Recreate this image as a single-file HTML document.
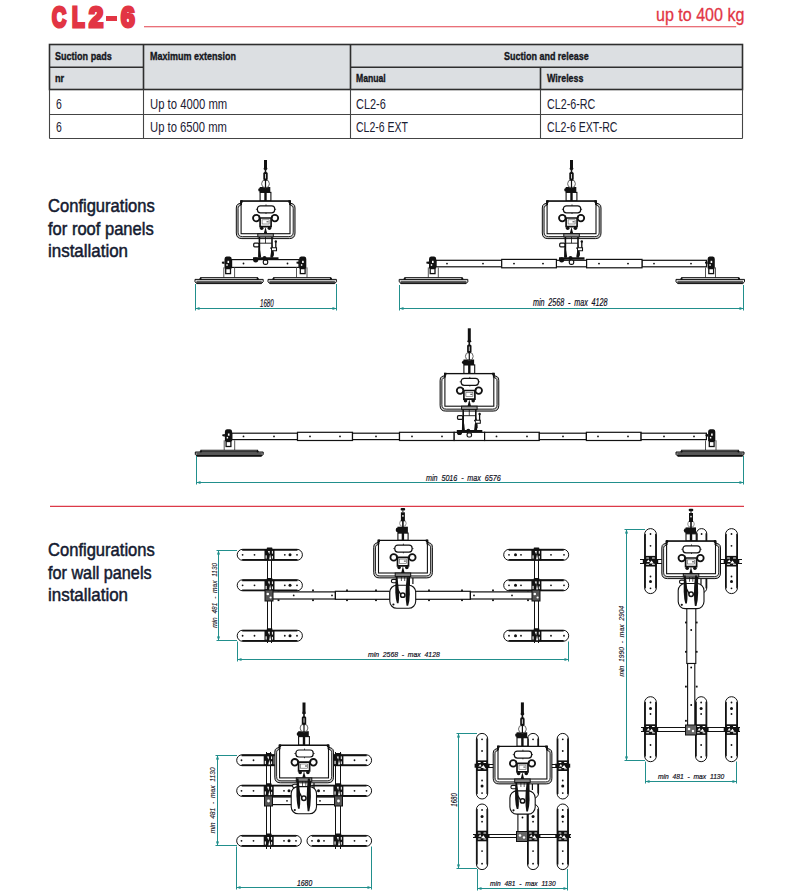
<!DOCTYPE html>
<html><head><meta charset="utf-8">
<style>
*{margin:0;padding:0;box-sizing:border-box}
html,body{width:789px;height:892px;background:#fff;overflow:hidden}
body{position:relative;font-family:"Liberation Sans",sans-serif}
.t{position:absolute;white-space:nowrap;transform-origin:0 0;line-height:1}
svg{position:absolute;left:0;top:0}
</style></head><body>
<svg width="789" height="892" viewBox="0 0 789 892">

 <g>
  <rect x="49.5" y="44.5" width="693" height="45" fill="#dcdfe2"/>
  <g stroke="#2e2e2e" stroke-width="1.6" fill="none">
   <rect x="49.5" y="44.5" width="693" height="45"/>
   <line x1="49.5" y1="67.2" x2="143.5" y2="67.2"/>
   <line x1="350.5" y1="67.2" x2="742.5" y2="67.2"/>
   <line x1="143.5" y1="44.5" x2="143.5" y2="89.5"/>
   <line x1="350.5" y1="44.5" x2="350.5" y2="89.5"/>
   <line x1="540.5" y1="67.2" x2="540.5" y2="89.5"/>
  </g>
  <g stroke="#444" stroke-width="1.1" fill="none">
   <line x1="49.5" y1="89.5" x2="49.5" y2="138.5"/>
   <line x1="742.5" y1="89.5" x2="742.5" y2="138.5"/>
   <line x1="49.5" y1="114.5" x2="742.5" y2="114.5"/>
   <line x1="49.5" y1="138.5" x2="742.5" y2="138.5"/>
   <line x1="143.5" y1="89.5" x2="143.5" y2="138.5"/>
   <line x1="350.5" y1="89.5" x2="350.5" y2="138.5"/>
   <line x1="540.5" y1="89.5" x2="540.5" y2="138.5"/>
  </g>
 </g>
 <line x1="144" y1="26.8" x2="736.2" y2="26.8" stroke="#e2404c" stroke-width="1.1"/>
 <line x1="50" y1="506.3" x2="744" y2="506.3" stroke="#dc3a48" stroke-width="1.2"/>

<defs>

<symbol id="hd" overflow="visible">
 <!-- handle frame (double line) -->
 <path d="M-24.4 2 L-27.6 3.2 Q-29.2 4 -29.2 7 V32 Q-29.2 37.6 -23.6 37.6 H23.9 Q29.5 37.6 29.5 32 V7 Q29.5 4 27.9 3.2 L24.7 2 Z" fill="#c4c4c4" stroke="#111" stroke-width="1"/>
 <path d="M-24.4 4 L-26.5 5 Q-27.4 5.6 -27.4 7.6 V31.2 Q-27.4 35.6 -23 35.6 H23.3 Q27.7 35.6 27.7 31.2 V7.6 Q27.7 5.6 26.8 5 L24.7 4 Z" fill="#fff" stroke="#111" stroke-width="0.9"/>
 <!-- box -->
 <rect x="-24.4" y="0" width="48.9" height="32.7" fill="#fff" stroke="#111" stroke-width="1.1"/>
 <line x1="-24.9" y1="0.2" x2="25" y2="0.2" stroke="#111" stroke-width="1.2"/>
 <line x1="-24.4" y1="0" x2="-24.4" y2="4" stroke="#111" stroke-width="1.8"/><line x1="24.5" y1="0" x2="24.5" y2="4" stroke="#111" stroke-width="1.8"/>
 <rect x="-25.3" y="-0.8" width="2.4" height="2.6" fill="#111"/>
 <rect x="22.9" y="-0.8" width="2.4" height="2.6" fill="#111"/>
 <!-- display -->
 <rect x="-8.1" y="4.8" width="17.3" height="7" rx="3" fill="#fff" stroke="#111" stroke-width="1.2"/>
 <line x1="0.5" y1="3.4" x2="0.5" y2="4.8" stroke="#111" stroke-width="0.8"/>
 <line x1="0.5" y1="11.8" x2="0.5" y2="13" stroke="#111" stroke-width="0.8"/>
 <line x1="-9.6" y1="8.3" x2="-8.1" y2="8.3" stroke="#111" stroke-width="0.8"/>
 <line x1="9.2" y1="8.3" x2="10.6" y2="8.3" stroke="#111" stroke-width="0.8"/>
 <!-- gauges -->
 <circle cx="-9.2" cy="17.1" r="3.3" fill="#fff" stroke="#111" stroke-width="1.8"/>
 <circle cx="9.4" cy="17.1" r="3.3" fill="#fff" stroke="#111" stroke-width="1.8"/>
 <!-- body -->
 <path d="M-5.4 17 h11 v8.6 h-11 z" fill="#fff" stroke="#111" stroke-width="1.7"/>
 <rect x="-3.4" y="18.8" width="7" height="4.2" fill="#fff" stroke="#555" stroke-width="0.6"/>
 <line x1="1" y1="20.8" x2="3" y2="20.8" stroke="#111" stroke-width="0.8"/>
 <path d="M-5.8 14.6 q-1 1.4 0 2.6 M6.2 14.6 q1 1.4 0 2.6" stroke="#111" stroke-width="1.2" fill="none"/>
 <circle cx="-3.8" cy="27.2" r="1.8" fill="#111"/>
 <circle cx="3.9" cy="27.2" r="1.8" fill="#111"/>
 <path d="M-1.8 33 L0 26 L1.8 33 z" fill="#111"/>
</symbol>
<symbol id="hook" overflow="visible">
 <rect x="-5.4" y="-8.6" width="10.8" height="8.6" fill="#fff" stroke="#111" stroke-width="1.1"/>
 <line x1="0" y1="-9" x2="0" y2="0" stroke="#111" stroke-width="2.4"/>
 <path d="M-5.8 -14 h10.6 v5.6 h-10.6 z" fill="#111"/>
 <circle cx="-5.4" cy="-11.2" r="1.9" fill="#111"/>
 <circle cx="0" cy="-17.2" r="3.9" fill="none" stroke="#666" stroke-width="1"/>
 <line x1="0" y1="-21" x2="0" y2="-13" stroke="#111" stroke-width="1.2"/>
 <rect x="-2.2" y="-29" width="4.4" height="8.6" rx="1.6" fill="#111"/>
 <line x1="0" y1="-27" x2="0" y2="-22.5" stroke="#fff" stroke-width="0.8"/>
 <ellipse cx="0" cy="-32.3" rx="1.9" ry="1.4" fill="#111"/>
</symbol>
<symbol id="hookw" overflow="visible">
 <rect x="-5" y="-7.2" width="10.2" height="7.2" fill="#fff" stroke="#111" stroke-width="1.1"/>
 <line x1="0" y1="-8" x2="0" y2="0" stroke="#111" stroke-width="2.4"/>
 <path d="M-5.4 -13.6 h10.4 v6.4 h-10.4 z" rx="2" fill="#111"/>
 <circle cx="-4.9" cy="-10.4" r="2.3" fill="#111"/>
 <circle cx="0" cy="-17" r="3.3" fill="none" stroke="#888" stroke-width="0.9"/><line x1="0" y1="-20" x2="0" y2="-13" stroke="#111" stroke-width="1.6"/>
 <rect x="-2" y="-28" width="4" height="9" fill="#111"/>
 <rect x="-0.7" y="-25.2" width="1.4" height="1.6" fill="#fff"/>
 <rect x="-2.2" y="-32.3" width="4.4" height="2.6" rx="0.8" fill="#111"/>
 <line x1="0" y1="-30" x2="0" y2="-28" stroke="#111" stroke-width="1"/>
</symbol>

</defs>
<rect x="231.6" y="259.6" width="67.4" height="7.7999999999999545" fill="#fff" stroke="#111" stroke-width="1.2"/><circle cx="243.5" cy="263.5" r="0.9" fill="#111"/><circle cx="287.5" cy="263.5" r="0.9" fill="#111"/><path d="M223.8 267.4 V277.6 M234.6 267.4 V277.6" stroke="#555" stroke-width="1"/><path d="M224.50000000000003 259.1 q0 -2.4 2 -2.6 h3.2 q2 0.2 2 2.6 v9.299999999999955 h-7.2 z" fill="#111"/><path d="M224.50000000000003 261.40000000000003 l-2.6 0.4 l0 1.6 l2.6 0.6 z" fill="#111"/><rect x="227.50000000000003" y="260.8" width="1.6" height="2.2" fill="#fff"/><rect x="226.3" y="264.20000000000005" width="1.4" height="1.6" fill="#fff"/><rect x="225.70000000000002" y="268.59999999999997" width="4.8" height="5" fill="#fff" stroke="#111" stroke-width="1.3"/><path d="M296.5 267.4 V277.6 M307 267.4 V277.6" stroke="#555" stroke-width="1"/><path d="M299.09999999999997 259.1 q0 -2.4 2 -2.6 h3.2 q2 0.2 2 2.6 v9.299999999999955 h-7.2 z" fill="#111"/><path d="M299.09999999999997 261.40000000000003 l-2.6 0.4 l0 1.6 l2.6 0.6 z" fill="#111"/><rect x="302.09999999999997" y="260.8" width="1.6" height="2.2" fill="#fff"/><rect x="300.9" y="264.20000000000005" width="1.4" height="1.6" fill="#fff"/><rect x="300.3" y="268.59999999999997" width="4.8" height="5" fill="#fff" stroke="#111" stroke-width="1.3"/><rect x="200.6" y="277.6" width="56.999999999999986" height="1.8" fill="#e4e4e4" stroke="#111" stroke-width="0.9"/><path d="M195 279.40000000000003 H263.2 V281.8 L261.4 283.6 H196.8 L195 281.8 Z" fill="#e4e4e4" stroke="#111" stroke-width="1"/><line x1="196.5" y1="281.3" x2="261.7" y2="281.3" stroke="#111" stroke-width="0.8"/><line x1="196.2" y1="282.90000000000003" x2="262.0" y2="282.90000000000003" stroke="#111" stroke-width="1.4"/><circle cx="200.5" cy="278.90000000000003" r="1.1" fill="#111"/><circle cx="257.7" cy="278.90000000000003" r="1.1" fill="#111"/><rect x="273.6" y="277.6" width="57.199999999999974" height="1.8" fill="#e4e4e4" stroke="#111" stroke-width="0.9"/><path d="M268 279.40000000000003 H336.4 V281.8 L334.59999999999997 283.6 H269.8 L268 281.8 Z" fill="#e4e4e4" stroke="#111" stroke-width="1"/><line x1="269.5" y1="281.3" x2="334.9" y2="281.3" stroke="#111" stroke-width="0.8"/><line x1="269.2" y1="282.90000000000003" x2="335.2" y2="282.90000000000003" stroke="#111" stroke-width="1.4"/><circle cx="273.5" cy="278.90000000000003" r="1.1" fill="#111"/><circle cx="330.9" cy="278.90000000000003" r="1.1" fill="#111"/><line x1="265.5" y1="160" x2="265.5" y2="168.0" stroke="#111" stroke-width="3"/><line x1="265.5" y1="168.0" x2="265.5" y2="181.0" stroke="#111" stroke-width="1.6"/><use href="#hook" x="265.5" y="201.0"/><use href="#hd" x="265.5" y="201.0"/><rect x="257.8" y="233.7" width="15.5" height="3.2" fill="#999" stroke="#111" stroke-width="1"/><path d="M259.4 236.89999999999998 V257.6 M272.0 236.89999999999998 V257.6" fill="none" stroke="#111" stroke-width="1.6"/><path d="M265.5 236.89999999999998 V243.2" stroke="#111" stroke-width="0.8"/><path d="M259.4 243.2 H272.0" stroke="#111" stroke-width="0.9"/><path d="M258.5 244.7 q2.2 6 2.6 12.900000000000034 l-3 0 z" fill="#111"/><path d="M272.9 244.7 q-2.2 6 -2.6 12.900000000000034 l3 0 z" fill="#111"/><path d="M270.5 247.7 q3 2 2.6 8" stroke="#111" stroke-width="1.6" fill="none"/><rect x="253.7" y="243.2" width="5.2" height="3.6" rx="1" fill="#fff" stroke="#111" stroke-width="1.2"/><path d="M272.0 247.7 h4.5 v3 h-4.5" fill="#fff" stroke="#111" stroke-width="1.1"/><line x1="275.8" y1="241.2" x2="275.8" y2="247.7" stroke="#111" stroke-width="1.3"/><circle cx="275.8" cy="241.5" r="1.2" fill="#111"/><rect x="253.0" y="257.3" width="25.5" height="2.4" fill="#111"/><circle cx="255.7" cy="259.8" r="2.6" fill="#111"/><circle cx="264.5" cy="258.1" r="2" fill="#111"/><rect x="263.3" y="260.1" width="4.4" height="4.2" rx="1.5" fill="#fff" stroke="#111" stroke-width="1.2"/><line x1="195.5" y1="308.5" x2="336.5" y2="308.5" stroke="#218f8c" stroke-width="1"/><path d="M195.5 308.5 l4 -1.6 v3.2 z M336.5 308.5 l-4 -1.6 v3.2 z" fill="#218f8c"/><line x1="195.5" y1="284" x2="195.5" y2="310.5" stroke="#218f8c" stroke-width="1"/><line x1="336.5" y1="284" x2="336.5" y2="310.5" stroke="#218f8c" stroke-width="1"/>
<rect x="436" y="260.3" width="270.5" height="6.5" fill="#fff" stroke="#111" stroke-width="1.2"/><line x1="501.7" y1="260.3" x2="501.7" y2="266.8" stroke="#111" stroke-width="1.2"/><line x1="556.4" y1="260.3" x2="556.4" y2="266.8" stroke="#111" stroke-width="1.2"/><line x1="586.6" y1="260.3" x2="586.6" y2="266.8" stroke="#111" stroke-width="1.2"/><line x1="642" y1="260.3" x2="642" y2="266.8" stroke="#111" stroke-width="1.2"/><circle cx="447" cy="263.55" r="0.9" fill="#111"/><circle cx="483" cy="263.55" r="0.9" fill="#111"/><circle cx="514" cy="263.55" r="0.9" fill="#111"/><circle cx="543" cy="263.55" r="0.9" fill="#111"/><circle cx="599" cy="263.55" r="0.9" fill="#111"/><circle cx="628" cy="263.55" r="0.9" fill="#111"/><circle cx="654" cy="263.55" r="0.9" fill="#111"/><circle cx="691" cy="263.55" r="0.9" fill="#111"/><rect x="501.7" y="259.4" width="54.7" height="8.4" fill="#fff" stroke="#111" stroke-width="1.2"/><rect x="586.6" y="259.4" width="55.4" height="8.4" fill="#fff" stroke="#111" stroke-width="1.2"/><circle cx="514" cy="263.6" r="0.9"/><circle cx="543" cy="263.6" r="0.9"/><circle cx="599" cy="263.6" r="0.9"/><circle cx="628" cy="263.6" r="0.9"/><path d="M428.3 267.4 V277.6 M438.3 267.4 V277.6" stroke="#555" stroke-width="1"/><path d="M429.0 259.1 q0 -2.4 2 -2.6 h3.2 q2 0.2 2 2.6 v9.299999999999955 h-7.2 z" fill="#111"/><path d="M429.0 261.40000000000003 l-2.6 0.4 l0 1.6 l2.6 0.6 z" fill="#111"/><rect x="432.0" y="260.8" width="1.6" height="2.2" fill="#fff"/><rect x="430.8" y="264.20000000000005" width="1.4" height="1.6" fill="#fff"/><rect x="430.20000000000005" y="268.59999999999997" width="4.8" height="5" fill="#fff" stroke="#111" stroke-width="1.3"/><path d="M705.5 267.4 V277.6 M715.5 267.4 V277.6" stroke="#555" stroke-width="1"/><path d="M707.6 259.1 q0 -2.4 2 -2.6 h3.2 q2 0.2 2 2.6 v9.299999999999955 h-7.2 z" fill="#111"/><path d="M707.6 261.40000000000003 l-2.6 0.4 l0 1.6 l2.6 0.6 z" fill="#111"/><rect x="710.6" y="260.8" width="1.6" height="2.2" fill="#fff"/><rect x="709.4000000000001" y="264.20000000000005" width="1.4" height="1.6" fill="#fff"/><rect x="708.8000000000001" y="268.59999999999997" width="4.8" height="5" fill="#fff" stroke="#111" stroke-width="1.3"/><rect x="404.8" y="277.6" width="57.40000000000002" height="1.8" fill="#e4e4e4" stroke="#111" stroke-width="0.9"/><path d="M399.2 279.40000000000003 H467.8 V281.8 L466.0 283.6 H401.0 L399.2 281.8 Z" fill="#e4e4e4" stroke="#111" stroke-width="1"/><line x1="400.7" y1="281.3" x2="466.3" y2="281.3" stroke="#111" stroke-width="0.8"/><line x1="400.4" y1="282.90000000000003" x2="466.6" y2="282.90000000000003" stroke="#111" stroke-width="1.4"/><circle cx="404.7" cy="278.90000000000003" r="1.1" fill="#111"/><circle cx="462.3" cy="278.90000000000003" r="1.1" fill="#111"/><rect x="681.6" y="277.6" width="57.3" height="1.8" fill="#e4e4e4" stroke="#111" stroke-width="0.9"/><path d="M676 279.40000000000003 H744.5 V281.8 L742.7 283.6 H677.8 L676 281.8 Z" fill="#e4e4e4" stroke="#111" stroke-width="1"/><line x1="677.5" y1="281.3" x2="743.0" y2="281.3" stroke="#111" stroke-width="0.8"/><line x1="677.2" y1="282.90000000000003" x2="743.3" y2="282.90000000000003" stroke="#111" stroke-width="1.4"/><circle cx="681.5" cy="278.90000000000003" r="1.1" fill="#111"/><circle cx="739.0" cy="278.90000000000003" r="1.1" fill="#111"/><line x1="571.5" y1="160" x2="571.5" y2="168.0" stroke="#111" stroke-width="3"/><line x1="571.5" y1="168.0" x2="571.5" y2="181.0" stroke="#111" stroke-width="1.6"/><use href="#hook" x="571.5" y="201.0"/><use href="#hd" x="571.5" y="201.0"/><rect x="563.8" y="233.7" width="15.5" height="3.2" fill="#999" stroke="#111" stroke-width="1"/><path d="M565.4 236.89999999999998 V257.6 M578.0 236.89999999999998 V257.6" fill="none" stroke="#111" stroke-width="1.6"/><path d="M571.5 236.89999999999998 V243.2" stroke="#111" stroke-width="0.8"/><path d="M565.4 243.2 H578.0" stroke="#111" stroke-width="0.9"/><path d="M564.5 244.7 q2.2 6 2.6 12.900000000000034 l-3 0 z" fill="#111"/><path d="M578.9 244.7 q-2.2 6 -2.6 12.900000000000034 l3 0 z" fill="#111"/><path d="M576.5 247.7 q3 2 2.6 8" stroke="#111" stroke-width="1.6" fill="none"/><rect x="559.7" y="243.2" width="5.2" height="3.6" rx="1" fill="#fff" stroke="#111" stroke-width="1.2"/><path d="M578.0 247.7 h4.5 v3 h-4.5" fill="#fff" stroke="#111" stroke-width="1.1"/><line x1="581.8" y1="241.2" x2="581.8" y2="247.7" stroke="#111" stroke-width="1.3"/><circle cx="581.8" cy="241.5" r="1.2" fill="#111"/><rect x="559.0" y="257.3" width="25.5" height="2.4" fill="#111"/><circle cx="561.7" cy="259.8" r="2.6" fill="#111"/><circle cx="570.5" cy="258.1" r="2" fill="#111"/><rect x="569.3" y="260.1" width="4.4" height="4.2" rx="1.5" fill="#fff" stroke="#111" stroke-width="1.2"/><line x1="399.5" y1="308.5" x2="743.5" y2="308.5" stroke="#218f8c" stroke-width="1"/><path d="M399.5 308.5 l4 -1.6 v3.2 z M743.5 308.5 l-4 -1.6 v3.2 z" fill="#218f8c"/><line x1="399.5" y1="285" x2="399.5" y2="310.5" stroke="#218f8c" stroke-width="1"/><line x1="743.5" y1="285" x2="743.5" y2="310.5" stroke="#218f8c" stroke-width="1"/>
<rect x="231.8" y="433.2" width="65.69999999999999" height="6.400000000000034" fill="#fff" stroke="#111" stroke-width="1.2"/><rect x="297.5" y="432.3" width="55.0" height="8.199999999999989" fill="#fff" stroke="#111" stroke-width="1.2"/><rect x="352.5" y="433.2" width="47.0" height="6.400000000000034" fill="#fff" stroke="#111" stroke-width="1.2"/><rect x="399.5" y="432.3" width="54.69999999999999" height="8.199999999999989" fill="#fff" stroke="#111" stroke-width="1.2"/><rect x="454.2" y="432.3" width="30.400000000000034" height="8.199999999999989" fill="#fff" stroke="#111" stroke-width="1.2"/><rect x="484.6" y="432.3" width="54.69999999999993" height="8.199999999999989" fill="#fff" stroke="#111" stroke-width="1.2"/><rect x="539.3" y="433.2" width="47.10000000000002" height="6.400000000000034" fill="#fff" stroke="#111" stroke-width="1.2"/><rect x="586.4" y="432.3" width="54.700000000000045" height="8.199999999999989" fill="#fff" stroke="#111" stroke-width="1.2"/><rect x="641.1" y="433.2" width="65.29999999999995" height="6.400000000000034" fill="#fff" stroke="#111" stroke-width="1.2"/><circle cx="243.5" cy="436.4" r="0.9" fill="#111"/><circle cx="274" cy="436.4" r="0.9" fill="#111"/><circle cx="310" cy="436.4" r="0.9" fill="#111"/><circle cx="340" cy="436.4" r="0.9" fill="#111"/><circle cx="376" cy="436.4" r="0.9" fill="#111"/><circle cx="412" cy="436.4" r="0.9" fill="#111"/><circle cx="442" cy="436.4" r="0.9" fill="#111"/><circle cx="496.5" cy="436.4" r="0.9" fill="#111"/><circle cx="527" cy="436.4" r="0.9" fill="#111"/><circle cx="563" cy="436.4" r="0.9" fill="#111"/><circle cx="598" cy="436.4" r="0.9" fill="#111"/><circle cx="628" cy="436.4" r="0.9" fill="#111"/><circle cx="664" cy="436.4" r="0.9" fill="#111"/><circle cx="694" cy="436.4" r="0.9" fill="#111"/><path d="M224.2 440.3 V450.2 M234.7 440.3 V450.2" stroke="#555" stroke-width="1"/><path d="M224.9 431.8 q0 -2.4 2 -2.6 h3.2 q2 0.2 2 2.6 v9.5 h-7.2 z" fill="#111"/><path d="M224.9 434.1 l-2.6 0.4 l0 1.6 l2.6 0.6 z" fill="#111"/><rect x="227.9" y="433.5" width="1.6" height="2.2" fill="#fff"/><rect x="226.7" y="436.90000000000003" width="1.4" height="1.6" fill="#fff"/><rect x="226.1" y="441.5" width="4.8" height="5" fill="#fff" stroke="#111" stroke-width="1.3"/><path d="M705.5 440.3 V450.2 M716 440.3 V450.2" stroke="#555" stroke-width="1"/><path d="M708.1 431.8 q0 -2.4 2 -2.6 h3.2 q2 0.2 2 2.6 v9.5 h-7.2 z" fill="#111"/><path d="M708.1 434.1 l-2.6 0.4 l0 1.6 l2.6 0.6 z" fill="#111"/><rect x="711.1" y="433.5" width="1.6" height="2.2" fill="#fff"/><rect x="709.9000000000001" y="436.90000000000003" width="1.4" height="1.6" fill="#fff"/><rect x="709.3000000000001" y="441.5" width="4.8" height="5" fill="#fff" stroke="#111" stroke-width="1.3"/><rect x="200.9" y="450.2" width="56.699999999999974" height="1.8" fill="#9a9a9a" stroke="#111" stroke-width="0.9"/><path d="M195.3 452.0 H263.2 V454.4 L261.4 456.2 H197.10000000000002 L195.3 454.4 Z" fill="#9a9a9a" stroke="#111" stroke-width="1"/><line x1="196.8" y1="453.9" x2="261.7" y2="453.9" stroke="#111" stroke-width="0.8"/><line x1="196.5" y1="455.5" x2="262.0" y2="455.5" stroke="#111" stroke-width="1.4"/><circle cx="200.8" cy="451.5" r="1.1" fill="#111"/><circle cx="257.7" cy="451.5" r="1.1" fill="#111"/><rect x="681.6" y="450.2" width="56.8" height="1.8" fill="#9a9a9a" stroke="#111" stroke-width="0.9"/><path d="M676 452.0 H744 V454.4 L742.2 456.2 H677.8 L676 454.4 Z" fill="#9a9a9a" stroke="#111" stroke-width="1"/><line x1="677.5" y1="453.9" x2="742.5" y2="453.9" stroke="#111" stroke-width="0.8"/><line x1="677.2" y1="455.5" x2="742.8" y2="455.5" stroke="#111" stroke-width="1.4"/><circle cx="681.5" cy="451.5" r="1.1" fill="#111"/><circle cx="738.5" cy="451.5" r="1.1" fill="#111"/><line x1="469.3" y1="328.3" x2="469.3" y2="340.5" stroke="#111" stroke-width="3"/><line x1="469.3" y1="340.5" x2="469.3" y2="353.5" stroke="#111" stroke-width="1.6"/><use href="#hook" x="469.3" y="373.5"/><use href="#hd" x="469.3" y="373.5"/><rect x="461.6" y="406.2" width="15.5" height="3.2" fill="#999" stroke="#111" stroke-width="1"/><path d="M463.2 409.4 V430.3 M475.8 409.4 V430.3" fill="none" stroke="#111" stroke-width="1.6"/><path d="M469.3 409.4 V415.7" stroke="#111" stroke-width="0.8"/><path d="M463.2 415.7 H475.8" stroke="#111" stroke-width="0.9"/><path d="M462.3 417.2 q2.2 6 2.6 13.100000000000023 l-3 0 z" fill="#111"/><path d="M476.7 417.2 q-2.2 6 -2.6 13.100000000000023 l3 0 z" fill="#111"/><path d="M474.3 420.2 q3 2 2.6 8" stroke="#111" stroke-width="1.6" fill="none"/><rect x="457.5" y="415.7" width="5.2" height="3.6" rx="1" fill="#fff" stroke="#111" stroke-width="1.2"/><path d="M475.8 420.2 h4.5 v3 h-4.5" fill="#fff" stroke="#111" stroke-width="1.1"/><line x1="479.6" y1="413.7" x2="479.6" y2="420.2" stroke="#111" stroke-width="1.3"/><circle cx="479.6" cy="414.0" r="1.2" fill="#111"/><rect x="456.8" y="430.0" width="25.5" height="2.4" fill="#111"/><circle cx="459.5" cy="432.5" r="2.6" fill="#111"/><circle cx="468.3" cy="430.8" r="2" fill="#111"/><rect x="467.1" y="432.8" width="4.4" height="4.2" rx="1.5" fill="#fff" stroke="#111" stroke-width="1.2"/><line x1="196.5" y1="482.5" x2="743.5" y2="482.5" stroke="#218f8c" stroke-width="1"/><path d="M196.5 482.5 l4 -1.6 v3.2 z M743.5 482.5 l-4 -1.6 v3.2 z" fill="#218f8c"/><line x1="196.5" y1="456" x2="196.5" y2="484.5" stroke="#218f8c" stroke-width="1"/><line x1="743.5" y1="456" x2="743.5" y2="484.5" stroke="#218f8c" stroke-width="1"/>
<rect x="272.4" y="591.9" width="63.0" height="7.100000000000023" fill="#fff" stroke="#111" stroke-width="1.2"/><circle cx="293.7" cy="595.45" r="0.9" fill="#111"/><circle cx="332" cy="595.45" r="0.9" fill="#111"/><rect x="335.4" y="591.3" width="54.60000000000002" height="8.0" fill="#fff" stroke="#111" stroke-width="1.2"/><rect x="277.6" y="589.5" width="1.8" height="1.8" fill="#111"/><rect x="277.6" y="599.3" width="1.8" height="1.8" fill="#111"/><rect x="312.1" y="589.5" width="1.8" height="1.8" fill="#111"/><rect x="312.1" y="599.3" width="1.8" height="1.8" fill="#111"/><rect x="346.1" y="589.5" width="1.8" height="1.8" fill="#111"/><rect x="346.1" y="599.3" width="1.8" height="1.8" fill="#111"/><rect x="375.1" y="589.5" width="1.8" height="1.8" fill="#111"/><rect x="375.1" y="599.3" width="1.8" height="1.8" fill="#111"/><rect x="415" y="591.3" width="55.39999999999998" height="8.0" fill="#fff" stroke="#111" stroke-width="1.2"/><rect x="470.4" y="591.9" width="63.60000000000002" height="7.100000000000023" fill="#fff" stroke="#111" stroke-width="1.2"/><circle cx="474" cy="595.45" r="0.9" fill="#111"/><circle cx="512" cy="595.45" r="0.9" fill="#111"/><rect x="428.1" y="589.5" width="1.8" height="1.8" fill="#111"/><rect x="428.1" y="599.3" width="1.8" height="1.8" fill="#111"/><rect x="461.1" y="589.5" width="1.8" height="1.8" fill="#111"/><rect x="461.1" y="599.3" width="1.8" height="1.8" fill="#111"/><rect x="492.1" y="589.5" width="1.8" height="1.8" fill="#111"/><rect x="492.1" y="599.3" width="1.8" height="1.8" fill="#111"/><rect x="527.1" y="589.5" width="1.8" height="1.8" fill="#111"/><rect x="527.1" y="599.3" width="1.8" height="1.8" fill="#111"/><rect x="267" y="549" width="4.800000000000011" height="94" fill="#fff" stroke="none"/><line x1="267" y1="549" x2="267" y2="643" stroke="#111" stroke-width="1" shape-rendering="crispEdges"/><line x1="271.8" y1="549" x2="271.8" y2="643" stroke="#111" stroke-width="1" shape-rendering="crispEdges"/><rect x="534.1" y="549" width="4.7999999999999545" height="94" fill="#fff" stroke="none"/><line x1="534.1" y1="549" x2="534.1" y2="643" stroke="#111" stroke-width="1" shape-rendering="crispEdges"/><line x1="538.9" y1="549" x2="538.9" y2="643" stroke="#111" stroke-width="1" shape-rendering="crispEdges"/><rect x="237.2" y="549.3" width="65.19999999999999" height="11.0" rx="5.5" fill="#fff" stroke="#111" stroke-width="1"/><line x1="242.14999999999998" y1="549.9" x2="297.45" y2="549.9" stroke="#111" stroke-width="1.6"/><line x1="242.14999999999998" y1="559.6999999999999" x2="297.45" y2="559.6999999999999" stroke="#111" stroke-width="1.6"/><circle cx="242.6" cy="554.8" r="0.9" fill="#111"/><circle cx="254.5" cy="554.8" r="0.9" fill="#111"/><circle cx="284.8" cy="554.8" r="0.9" fill="#111"/><circle cx="297" cy="554.8" r="0.9" fill="#111"/><circle cx="290" cy="554.8" r="1.5" fill="#111"/><rect x="264.5" y="549.3" width="10" height="11.0" fill="#111"/><rect x="266.8" y="547.4" width="5.6" height="2" rx="0.6" fill="#111"/><rect x="265.6" y="555.3499999999999" width="1.1" height="3.3" fill="#fff"/><rect x="271.9" y="550.9" width="1" height="2.75" fill="#fff"/><rect x="271.9" y="555.9" width="1" height="2.75" fill="#fff"/><path d="M267.9 550.9 h2 l-0.6 3.3 z" fill="#fff"/><path d="M270.1 554.25 l1.1 4.95 h-2 z" fill="#fff"/><rect x="503.7" y="549.3" width="65.00000000000006" height="11.0" rx="5.5" fill="#fff" stroke="#111" stroke-width="1"/><line x1="508.65" y1="549.9" x2="563.75" y2="549.9" stroke="#111" stroke-width="1.6"/><line x1="508.65" y1="559.6999999999999" x2="563.75" y2="559.6999999999999" stroke="#111" stroke-width="1.6"/><circle cx="509" cy="554.8" r="0.9" fill="#111"/><circle cx="521" cy="554.8" r="0.9" fill="#111"/><circle cx="551" cy="554.8" r="0.9" fill="#111"/><circle cx="564" cy="554.8" r="0.9" fill="#111"/><circle cx="515.5" cy="554.8" r="1.5" fill="#111"/><rect x="531.4" y="549.3" width="10" height="11.0" fill="#111"/><rect x="533.6999999999999" y="547.4" width="5.6" height="2" rx="0.6" fill="#111"/><rect x="532.5" y="555.3499999999999" width="1.1" height="3.3" fill="#fff"/><rect x="538.8" y="550.9" width="1" height="2.75" fill="#fff"/><rect x="538.8" y="555.9" width="1" height="2.75" fill="#fff"/><path d="M534.8 550.9 h2 l-0.6 3.3 z" fill="#fff"/><path d="M537.0 554.25 l1.1 4.95 h-2 z" fill="#fff"/><rect x="237.2" y="579.8" width="65.19999999999999" height="11.0" rx="5.5" fill="#fff" stroke="#111" stroke-width="1"/><line x1="242.14999999999998" y1="580.4" x2="297.45" y2="580.4" stroke="#111" stroke-width="1.6"/><line x1="242.14999999999998" y1="590.1999999999999" x2="297.45" y2="590.1999999999999" stroke="#111" stroke-width="1.6"/><circle cx="242.6" cy="585.3" r="0.9" fill="#111"/><circle cx="254.5" cy="585.3" r="0.9" fill="#111"/><circle cx="284.8" cy="585.3" r="0.9" fill="#111"/><circle cx="297" cy="585.3" r="0.9" fill="#111"/><circle cx="290" cy="585.3" r="1.5" fill="#111"/><rect x="264.5" y="579.8" width="10" height="11.0" fill="#111"/><rect x="266.8" y="577.9" width="5.6" height="2" rx="0.6" fill="#111"/><rect x="265.6" y="585.8499999999999" width="1.1" height="3.3" fill="#fff"/><rect x="271.9" y="581.4" width="1" height="2.75" fill="#fff"/><rect x="271.9" y="586.4" width="1" height="2.75" fill="#fff"/><path d="M267.9 581.4 h2 l-0.6 3.3 z" fill="#fff"/><path d="M270.1 584.75 l1.1 4.95 h-2 z" fill="#fff"/><rect x="503.7" y="579.8" width="65.00000000000006" height="11.0" rx="5.5" fill="#fff" stroke="#111" stroke-width="1"/><line x1="508.65" y1="580.4" x2="563.75" y2="580.4" stroke="#111" stroke-width="1.6"/><line x1="508.65" y1="590.1999999999999" x2="563.75" y2="590.1999999999999" stroke="#111" stroke-width="1.6"/><circle cx="509" cy="585.3" r="0.9" fill="#111"/><circle cx="521" cy="585.3" r="0.9" fill="#111"/><circle cx="551" cy="585.3" r="0.9" fill="#111"/><circle cx="564" cy="585.3" r="0.9" fill="#111"/><circle cx="515.5" cy="585.3" r="1.5" fill="#111"/><rect x="531.4" y="579.8" width="10" height="11.0" fill="#111"/><rect x="533.6999999999999" y="577.9" width="5.6" height="2" rx="0.6" fill="#111"/><rect x="532.5" y="585.8499999999999" width="1.1" height="3.3" fill="#fff"/><rect x="538.8" y="581.4" width="1" height="2.75" fill="#fff"/><rect x="538.8" y="586.4" width="1" height="2.75" fill="#fff"/><path d="M534.8 581.4 h2 l-0.6 3.3 z" fill="#fff"/><path d="M537.0 584.75 l1.1 4.95 h-2 z" fill="#fff"/><rect x="237.2" y="630.2" width="65.19999999999999" height="11.099999999999909" rx="5.5499999999999545" fill="#fff" stroke="#111" stroke-width="1"/><line x1="242.19499999999994" y1="630.8000000000001" x2="297.40500000000003" y2="630.8000000000001" stroke="#111" stroke-width="1.6"/><line x1="242.19499999999994" y1="640.6999999999999" x2="297.40500000000003" y2="640.6999999999999" stroke="#111" stroke-width="1.6"/><circle cx="242.6" cy="635.75" r="0.9" fill="#111"/><circle cx="254.5" cy="635.75" r="0.9" fill="#111"/><circle cx="284.8" cy="635.75" r="0.9" fill="#111"/><circle cx="297" cy="635.75" r="0.9" fill="#111"/><circle cx="290" cy="635.75" r="1.5" fill="#111"/><rect x="264.5" y="630.2" width="10" height="11.099999999999909" fill="#111"/><rect x="266.8" y="628.3000000000001" width="5.6" height="2" rx="0.6" fill="#111"/><rect x="265.6" y="636.305" width="1.1" height="3.3299999999999725" fill="#fff"/><rect x="271.9" y="631.8000000000001" width="1" height="2.7749999999999773" fill="#fff"/><rect x="271.9" y="636.86" width="1" height="2.7749999999999773" fill="#fff"/><path d="M267.9 631.8000000000001 h2 l-0.6 3.3299999999999725 z" fill="#fff"/><path d="M270.1 635.195 l1.1 4.994999999999959 h-2 z" fill="#fff"/><rect x="503.7" y="630.2" width="65.00000000000006" height="11.099999999999909" rx="5.5499999999999545" fill="#fff" stroke="#111" stroke-width="1"/><line x1="508.69499999999994" y1="630.8000000000001" x2="563.705" y2="630.8000000000001" stroke="#111" stroke-width="1.6"/><line x1="508.69499999999994" y1="640.6999999999999" x2="563.705" y2="640.6999999999999" stroke="#111" stroke-width="1.6"/><circle cx="509" cy="635.75" r="0.9" fill="#111"/><circle cx="521" cy="635.75" r="0.9" fill="#111"/><circle cx="551" cy="635.75" r="0.9" fill="#111"/><circle cx="564" cy="635.75" r="0.9" fill="#111"/><circle cx="515.5" cy="635.75" r="1.5" fill="#111"/><rect x="531.4" y="630.2" width="10" height="11.099999999999909" fill="#111"/><rect x="533.6999999999999" y="628.3000000000001" width="5.6" height="2" rx="0.6" fill="#111"/><rect x="532.5" y="636.305" width="1.1" height="3.3299999999999725" fill="#fff"/><rect x="538.8" y="631.8000000000001" width="1" height="2.7749999999999773" fill="#fff"/><rect x="538.8" y="636.86" width="1" height="2.7749999999999773" fill="#fff"/><path d="M534.8 631.8000000000001 h2 l-0.6 3.3299999999999725 z" fill="#fff"/><path d="M537.0 635.195 l1.1 4.994999999999959 h-2 z" fill="#fff"/><rect x="265" y="590" width="8" height="11" fill="#555" stroke="#111" stroke-width="1"/><circle cx="267.8" cy="594" r="1.3" fill="#fff"/><circle cx="270.6" cy="597.5" r="1.1" fill="#fff"/><rect x="532" y="590" width="8" height="11" fill="#555" stroke="#111" stroke-width="1"/><circle cx="534.8" cy="594" r="1.3" fill="#fff"/><circle cx="537.6" cy="597.5" r="1.1" fill="#fff"/><use href="#hookw" x="402.9" y="540.3"/><use href="#hd" x="402.9" y="540.3"/><rect x="395.2" y="573.0" width="15.5" height="3.4" fill="#888" stroke="#111" stroke-width="1"/><path d="M396.79999999999995 576.4 V586 M409.4 576.4 V586" stroke="#111" stroke-width="1.2"/><path d="M401.4 576.4 V581.0 M404.7 576.4 V581.0" stroke="#111" stroke-width="0.7"/><rect x="391.4" y="579.4" width="5.4" height="3.4" rx="1.6" fill="#fff" stroke="#111" stroke-width="1.1"/><line x1="412.9" y1="578.0" x2="412.9" y2="584.0" stroke="#111" stroke-width="1.2"/><rect x="389.8" y="585.2" width="25.9" height="23.1" rx="7" fill="#fff" stroke="#111" stroke-width="1.1"/><path d="M395.75 577.2 L397.35 577.2 Q400.15 596.75 398.55 603.3000000000001 L396.95 603.3000000000001 Q394.35 595.595 395.75 577.2 Z" fill="#111"/><path d="M406.75 577.2 L408.75 577.2 Q411.15 596.75 408.15 605.8000000000001 L406.55 605.8000000000001 Q404.55 595.595 406.75 577.2 Z" fill="#111"/><path d="M396.75 588.2 L401.25 595.133" stroke="#111" stroke-width="1.4"/><circle cx="402.75" cy="595.133" r="2.2" fill="#fff" stroke="#111" stroke-width="1.5"/><circle cx="393.40000000000003" cy="604.5000000000001" r="1.1" fill="#111"/><line x1="218.5" y1="550.5" x2="218.5" y2="640.5" stroke="#218f8c" stroke-width="1"/><path d="M218.5 550.5 l-1.6 4 h3.2 z M218.5 640.5 l-1.6 -4 h3.2 z" fill="#218f8c"/><line x1="216.5" y1="550.5" x2="237" y2="550.5" stroke="#218f8c" stroke-width="1"/><line x1="216.5" y1="640.5" x2="237" y2="640.5" stroke="#218f8c" stroke-width="1"/><line x1="237.5" y1="659.5" x2="568.5" y2="659.5" stroke="#218f8c" stroke-width="1"/><path d="M237.5 659.5 l4 -1.6 v3.2 z M568.5 659.5 l-4 -1.6 v3.2 z" fill="#218f8c"/><line x1="237.5" y1="641.5" x2="237.5" y2="661.5" stroke="#218f8c" stroke-width="1"/><line x1="568.5" y1="641.5" x2="568.5" y2="661.5" stroke="#218f8c" stroke-width="1"/>
<rect x="686.8" y="606" width="9" height="57.5" fill="#fff" stroke="#111" stroke-width="1.1"/><rect x="687.6" y="663.5" width="7.2" height="70" fill="#fff" stroke="#111" stroke-width="1.1"/><rect x="685.0" y="621.6" width="1.8" height="1.8" fill="#111"/><rect x="695.8" y="621.6" width="1.8" height="1.8" fill="#111"/><rect x="685.0" y="650.9" width="1.8" height="1.8" fill="#111"/><rect x="695.8" y="650.9" width="1.8" height="1.8" fill="#111"/><rect x="685.0" y="685.7" width="1.8" height="1.8" fill="#111"/><rect x="695.8" y="685.7" width="1.8" height="1.8" fill="#111"/><rect x="685.0" y="719.9" width="1.8" height="1.8" fill="#111"/><rect x="695.8" y="719.9" width="1.8" height="1.8" fill="#111"/><circle cx="691.2" cy="667.5" r="0.9"/><circle cx="691.2" cy="705" r="0.9"/><circle cx="691.2" cy="630" r="0.9"/><rect x="640" y="559.5" width="102" height="3.7999999999999545" fill="#fff" stroke="none"/><line x1="640" y1="559.5" x2="742" y2="559.5" stroke="#111" stroke-width="1" shape-rendering="crispEdges"/><line x1="640" y1="563.3" x2="742" y2="563.3" stroke="#111" stroke-width="1" shape-rendering="crispEdges"/><rect x="641" y="727.6" width="99" height="4.0" fill="#fff" stroke="none"/><line x1="641" y1="727.6" x2="740" y2="727.6" stroke="#111" stroke-width="1" shape-rendering="crispEdges"/><line x1="641" y1="731.6" x2="740" y2="731.6" stroke="#111" stroke-width="1" shape-rendering="crispEdges"/><rect x="696.4" y="528.6" width="10.399999999999977" height="64.39999999999998" rx="5.199999999999989" fill="#fff" stroke="#111" stroke-width="1"/><line x1="697.0" y1="533.28" x2="697.0" y2="588.32" stroke="#111" stroke-width="1.4"/><line x1="706.1999999999999" y1="533.28" x2="706.1999999999999" y2="588.32" stroke="#111" stroke-width="1.4"/><circle cx="701.5999999999999" cy="534" r="0.9" fill="#111"/><circle cx="701.5999999999999" cy="545.8" r="0.9" fill="#111"/><rect x="644.6" y="528.6" width="11.799999999999955" height="65.0" rx="5.899999999999977" fill="#fff" stroke="#111" stroke-width="1"/><line x1="645.2" y1="533.91" x2="645.2" y2="588.2900000000001" stroke="#111" stroke-width="1.4"/><line x1="655.8" y1="533.91" x2="655.8" y2="588.2900000000001" stroke="#111" stroke-width="1.4"/><circle cx="650.5" cy="534" r="0.9" fill="#111"/><circle cx="650.5" cy="545.8" r="0.9" fill="#111"/><circle cx="650.5" cy="576.5" r="0.9" fill="#111"/><circle cx="650.5" cy="588.3" r="0.9" fill="#111"/><circle cx="650.5" cy="581.4" r="1.5" fill="#111"/><rect x="644.6" y="555.9000000000001" width="11.799999999999955" height="10.6" fill="#111"/><rect x="642.8000000000001" y="559.2" width="2" height="4" fill="#111"/><rect x="656.1999999999999" y="559.2" width="2" height="4" fill="#111"/><rect x="646.1" y="557.6" width="2.9499999999999886" height="1" rx="0.5" fill="#fff"/><rect x="651.95" y="557.6" width="2.9499999999999886" height="1" rx="0.5" fill="#fff"/><rect x="646.1" y="563.8000000000001" width="2.9499999999999886" height="1" rx="0.5" fill="#fff"/><rect x="651.95" y="563.8000000000001" width="2.9499999999999886" height="1" rx="0.5" fill="#fff"/><path d="M646.6 562.0 L648.4 559.6 L649.8000000000001 562.0 Z" fill="#fff"/><path d="M649.2 563.4000000000001 L651.6 560.4000000000001 L653.6 563.4000000000001 Z" fill="#fff"/><rect x="725.5" y="528.6" width="12.0" height="65.0" rx="6.0" fill="#fff" stroke="#111" stroke-width="1"/><line x1="726.1" y1="534.0" x2="726.1" y2="588.2" stroke="#111" stroke-width="1.4"/><line x1="736.9" y1="534.0" x2="736.9" y2="588.2" stroke="#111" stroke-width="1.4"/><circle cx="731.5" cy="534" r="0.9" fill="#111"/><circle cx="731.5" cy="545.8" r="0.9" fill="#111"/><circle cx="731.5" cy="576.5" r="0.9" fill="#111"/><circle cx="731.5" cy="588.3" r="0.9" fill="#111"/><circle cx="731.5" cy="581.4" r="1.5" fill="#111"/><rect x="725.5" y="555.9000000000001" width="12.0" height="10.6" fill="#111"/><rect x="723.7" y="559.2" width="2" height="4" fill="#111"/><rect x="737.3" y="559.2" width="2" height="4" fill="#111"/><rect x="727.0" y="557.6" width="3.0" height="1" rx="0.5" fill="#fff"/><rect x="733.0" y="557.6" width="3.0" height="1" rx="0.5" fill="#fff"/><rect x="727.0" y="563.8000000000001" width="3.0" height="1" rx="0.5" fill="#fff"/><rect x="733.0" y="563.8000000000001" width="3.0" height="1" rx="0.5" fill="#fff"/><path d="M727.5 562.0 L729.3 559.6 L730.7 562.0 Z" fill="#fff"/><path d="M730.1 563.4000000000001 L732.5 560.4000000000001 L734.5 563.4000000000001 Z" fill="#fff"/><rect x="644.6" y="696.7" width="11.799999999999955" height="65.0" rx="5.899999999999977" fill="#fff" stroke="#111" stroke-width="1"/><line x1="645.2" y1="702.01" x2="645.2" y2="756.3900000000001" stroke="#111" stroke-width="1.4"/><line x1="655.8" y1="702.01" x2="655.8" y2="756.3900000000001" stroke="#111" stroke-width="1.4"/><circle cx="650.5" cy="702.5" r="0.9" fill="#111"/><circle cx="650.5" cy="714" r="0.9" fill="#111"/><circle cx="650.5" cy="745" r="0.9" fill="#111"/><circle cx="650.5" cy="757" r="0.9" fill="#111"/><circle cx="650.5" cy="708.5" r="1.5" fill="#111"/><rect x="644.6" y="724.3000000000001" width="11.799999999999955" height="10.6" fill="#111"/><rect x="642.8000000000001" y="727.6" width="2" height="4" fill="#111"/><rect x="656.1999999999999" y="727.6" width="2" height="4" fill="#111"/><rect x="646.1" y="726.0" width="2.9499999999999886" height="1" rx="0.5" fill="#fff"/><rect x="651.95" y="726.0" width="2.9499999999999886" height="1" rx="0.5" fill="#fff"/><rect x="646.1" y="732.2" width="2.9499999999999886" height="1" rx="0.5" fill="#fff"/><rect x="651.95" y="732.2" width="2.9499999999999886" height="1" rx="0.5" fill="#fff"/><path d="M646.6 730.4 L648.4 728.0 L649.8000000000001 730.4 Z" fill="#fff"/><path d="M649.2 731.8000000000001 L651.6 728.8000000000001 L653.6 731.8000000000001 Z" fill="#fff"/><rect x="695.5" y="696.7" width="11.299999999999955" height="65.0" rx="5.649999999999977" fill="#fff" stroke="#111" stroke-width="1"/><line x1="696.1" y1="701.7850000000001" x2="696.1" y2="756.615" stroke="#111" stroke-width="1.4"/><line x1="706.1999999999999" y1="701.7850000000001" x2="706.1999999999999" y2="756.615" stroke="#111" stroke-width="1.4"/><circle cx="701.15" cy="702.5" r="0.9" fill="#111"/><circle cx="701.15" cy="714" r="0.9" fill="#111"/><circle cx="701.15" cy="745" r="0.9" fill="#111"/><circle cx="701.15" cy="757" r="0.9" fill="#111"/><circle cx="701.15" cy="708.5" r="1.5" fill="#111"/><rect x="695.5" y="724.3000000000001" width="11.299999999999955" height="10.6" fill="#111"/><rect x="693.7" y="727.6" width="2" height="4" fill="#111"/><rect x="706.5999999999999" y="727.6" width="2" height="4" fill="#111"/><rect x="697.0" y="726.0" width="2.8249999999999886" height="1" rx="0.5" fill="#fff"/><rect x="702.4749999999999" y="726.0" width="2.8249999999999886" height="1" rx="0.5" fill="#fff"/><rect x="697.0" y="732.2" width="2.8249999999999886" height="1" rx="0.5" fill="#fff"/><rect x="702.4749999999999" y="732.2" width="2.8249999999999886" height="1" rx="0.5" fill="#fff"/><path d="M697.5 730.4 L699.3 728.0 L700.7 730.4 Z" fill="#fff"/><path d="M700.1 731.8000000000001 L702.5 728.8000000000001 L704.5 731.8000000000001 Z" fill="#fff"/><rect x="725.5" y="696.7" width="12.0" height="65.0" rx="6.0" fill="#fff" stroke="#111" stroke-width="1"/><line x1="726.1" y1="702.1" x2="726.1" y2="756.3000000000001" stroke="#111" stroke-width="1.4"/><line x1="736.9" y1="702.1" x2="736.9" y2="756.3000000000001" stroke="#111" stroke-width="1.4"/><circle cx="731.5" cy="702.5" r="0.9" fill="#111"/><circle cx="731.5" cy="714" r="0.9" fill="#111"/><circle cx="731.5" cy="745" r="0.9" fill="#111"/><circle cx="731.5" cy="757" r="0.9" fill="#111"/><circle cx="731.5" cy="708.5" r="1.5" fill="#111"/><rect x="725.5" y="724.3000000000001" width="12.0" height="10.6" fill="#111"/><rect x="723.7" y="727.6" width="2" height="4" fill="#111"/><rect x="737.3" y="727.6" width="2" height="4" fill="#111"/><rect x="727.0" y="726.0" width="3.0" height="1" rx="0.5" fill="#fff"/><rect x="733.0" y="726.0" width="3.0" height="1" rx="0.5" fill="#fff"/><rect x="727.0" y="732.2" width="3.0" height="1" rx="0.5" fill="#fff"/><rect x="733.0" y="732.2" width="3.0" height="1" rx="0.5" fill="#fff"/><path d="M727.5 730.4 L729.3 728.0 L730.7 730.4 Z" fill="#fff"/><path d="M730.1 731.8000000000001 L732.5 728.8000000000001 L734.5 731.8000000000001 Z" fill="#fff"/><rect x="685.5" y="725" width="11" height="10" fill="#666" stroke="#111" stroke-width="1"/><circle cx="689" cy="729" r="1.3" fill="#fff"/><circle cx="693" cy="731" r="1.2" fill="#fff"/><use href="#hookw" x="691.0" y="541.0"/><use href="#hd" x="691.0" y="541.0"/><rect x="683.3" y="573.7" width="15.5" height="3.4" fill="#888" stroke="#111" stroke-width="1"/><path d="M684.9 577.1 V584.5 M697.5 577.1 V584.5" stroke="#111" stroke-width="1.2"/><path d="M689.5 577.1 V581.7 M692.8 577.1 V581.7" stroke="#111" stroke-width="0.7"/><rect x="679.5" y="580.1" width="5.4" height="3.4" rx="1.6" fill="#fff" stroke="#111" stroke-width="1.1"/><line x1="701.0" y1="578.7" x2="701.0" y2="584.7" stroke="#111" stroke-width="1.2"/><rect x="678.2" y="583.5" width="25.8" height="25.1" rx="7" fill="#fff" stroke="#111" stroke-width="1.1"/><path d="M684.1 575.5 L685.7 575.5 Q688.5 596.05 686.9 603.6 L685.3000000000001 603.6 Q682.7 594.795 684.1 575.5 Z" fill="#111"/><path d="M695.1 575.5 L697.1 575.5 Q699.5 596.05 696.5 606.1 L694.9 606.1 Q692.9 594.795 695.1 575.5 Z" fill="#111"/><path d="M685.1 586.5 L689.6 594.293" stroke="#111" stroke-width="1.4"/><circle cx="691.1" cy="594.293" r="2.2" fill="#fff" stroke="#111" stroke-width="1.5"/><circle cx="681.8000000000001" cy="604.8000000000001" r="1.1" fill="#111"/><line x1="626.5" y1="529.5" x2="626.5" y2="760.5" stroke="#218f8c" stroke-width="1"/><path d="M626.5 529.5 l-1.6 4 h3.2 z M626.5 760.5 l-1.6 -4 h3.2 z" fill="#218f8c"/><line x1="624.5" y1="529.5" x2="645" y2="529.5" stroke="#218f8c" stroke-width="1"/><line x1="624.5" y1="760.5" x2="645" y2="760.5" stroke="#218f8c" stroke-width="1"/><line x1="645.5" y1="781.5" x2="736.5" y2="781.5" stroke="#218f8c" stroke-width="1"/><path d="M645.5 781.5 l4 -1.6 v3.2 z M736.5 781.5 l-4 -1.6 v3.2 z" fill="#218f8c"/><line x1="645.5" y1="761.5" x2="645.5" y2="783.5" stroke="#218f8c" stroke-width="1"/><line x1="736.5" y1="761.5" x2="736.5" y2="783.5" stroke="#218f8c" stroke-width="1"/>
<rect x="268" y="797" width="71" height="7.600000000000023" fill="#fff" stroke="#111" stroke-width="1.2"/><circle cx="287" cy="800.8" r="0.9" fill="#111"/><circle cx="320" cy="800.8" r="0.9" fill="#111"/><rect x="266.5" y="752" width="4.399999999999977" height="96.5" fill="#fff" stroke="none"/><line x1="266.5" y1="752" x2="266.5" y2="848.5" stroke="#111" stroke-width="1" shape-rendering="crispEdges"/><line x1="270.9" y1="752" x2="270.9" y2="848.5" stroke="#111" stroke-width="1" shape-rendering="crispEdges"/><rect x="335.9" y="752" width="5.0" height="96.5" fill="#fff" stroke="none"/><line x1="335.9" y1="752" x2="335.9" y2="848.5" stroke="#111" stroke-width="1" shape-rendering="crispEdges"/><line x1="340.9" y1="752" x2="340.9" y2="848.5" stroke="#111" stroke-width="1" shape-rendering="crispEdges"/><rect x="236.7" y="754.8" width="53.30000000000001" height="10.900000000000091" rx="5.4500000000000455" fill="#fff" stroke="#111" stroke-width="1"/><line x1="241.60500000000002" y1="755.4" x2="285.09499999999997" y2="755.4" stroke="#111" stroke-width="1.6"/><line x1="241.60500000000002" y1="765.1" x2="285.09499999999997" y2="765.1" stroke="#111" stroke-width="1.6"/><circle cx="241.5" cy="760.25" r="0.9" fill="#111"/><circle cx="253.5" cy="760.25" r="0.9" fill="#111"/><rect x="318" y="754.8" width="53.60000000000002" height="10.900000000000091" rx="5.4500000000000455" fill="#fff" stroke="#111" stroke-width="1"/><line x1="322.90500000000003" y1="755.4" x2="366.695" y2="755.4" stroke="#111" stroke-width="1.6"/><line x1="322.90500000000003" y1="765.1" x2="366.695" y2="765.1" stroke="#111" stroke-width="1.6"/><circle cx="354.5" cy="760.25" r="0.9" fill="#111"/><circle cx="366.5" cy="760.25" r="0.9" fill="#111"/><rect x="263.7" y="754.8" width="10" height="10.900000000000091" fill="#111"/><rect x="266.0" y="752.9" width="5.6" height="2" rx="0.6" fill="#111"/><rect x="264.8" y="760.795" width="1.1" height="3.270000000000027" fill="#fff"/><rect x="271.09999999999997" y="756.4" width="1" height="2.7250000000000227" fill="#fff"/><rect x="271.09999999999997" y="761.34" width="1" height="2.7250000000000227" fill="#fff"/><path d="M267.09999999999997 756.4 h2 l-0.6 3.270000000000027 z" fill="#fff"/><path d="M269.3 759.705 l1.1 4.905000000000041 h-2 z" fill="#fff"/><rect x="333.4" y="754.8" width="10" height="10.900000000000091" fill="#111"/><rect x="335.7" y="752.9" width="5.6" height="2" rx="0.6" fill="#111"/><rect x="334.5" y="760.795" width="1.1" height="3.270000000000027" fill="#fff"/><rect x="340.79999999999995" y="756.4" width="1" height="2.7250000000000227" fill="#fff"/><rect x="340.79999999999995" y="761.34" width="1" height="2.7250000000000227" fill="#fff"/><path d="M336.79999999999995 756.4 h2 l-0.6 3.270000000000027 z" fill="#fff"/><path d="M339.0 759.705 l1.1 4.905000000000041 h-2 z" fill="#fff"/><rect x="236.7" y="785.2" width="64.60000000000002" height="11.199999999999932" rx="5.599999999999966" fill="#fff" stroke="#111" stroke-width="1"/><line x1="241.73999999999995" y1="785.8000000000001" x2="296.26000000000005" y2="785.8000000000001" stroke="#111" stroke-width="1.6"/><line x1="241.73999999999995" y1="795.8" x2="296.26000000000005" y2="795.8" stroke="#111" stroke-width="1.6"/><circle cx="241.5" cy="790.8" r="0.9" fill="#111"/><circle cx="253.5" cy="790.8" r="0.9" fill="#111"/><circle cx="284" cy="790.8" r="0.9" fill="#111"/><circle cx="296" cy="790.8" r="0.9" fill="#111"/><circle cx="289" cy="790.8" r="1.5" fill="#111"/><rect x="307" y="785.2" width="64.60000000000002" height="11.199999999999932" rx="5.599999999999966" fill="#fff" stroke="#111" stroke-width="1"/><line x1="312.03999999999996" y1="785.8000000000001" x2="366.56000000000006" y2="785.8000000000001" stroke="#111" stroke-width="1.6"/><line x1="312.03999999999996" y1="795.8" x2="366.56000000000006" y2="795.8" stroke="#111" stroke-width="1.6"/><circle cx="312" cy="790.8" r="0.9" fill="#111"/><circle cx="324" cy="790.8" r="0.9" fill="#111"/><circle cx="354.5" cy="790.8" r="0.9" fill="#111"/><circle cx="366.5" cy="790.8" r="0.9" fill="#111"/><circle cx="318.5" cy="790.8" r="1.5" fill="#111"/><rect x="263.7" y="785.2" width="10" height="11.199999999999932" fill="#111"/><rect x="266.0" y="783.3000000000001" width="5.6" height="2" rx="0.6" fill="#111"/><rect x="264.8" y="791.36" width="1.1" height="3.3599999999999794" fill="#fff"/><rect x="271.09999999999997" y="786.8000000000001" width="1" height="2.799999999999983" fill="#fff"/><rect x="271.09999999999997" y="791.92" width="1" height="2.799999999999983" fill="#fff"/><path d="M267.09999999999997 786.8000000000001 h2 l-0.6 3.3599999999999794 z" fill="#fff"/><path d="M269.3 790.24 l1.1 5.03999999999997 h-2 z" fill="#fff"/><rect x="333.4" y="785.2" width="10" height="11.199999999999932" fill="#111"/><rect x="335.7" y="783.3000000000001" width="5.6" height="2" rx="0.6" fill="#111"/><rect x="334.5" y="791.36" width="1.1" height="3.3599999999999794" fill="#fff"/><rect x="340.79999999999995" y="786.8000000000001" width="1" height="2.799999999999983" fill="#fff"/><rect x="340.79999999999995" y="791.92" width="1" height="2.799999999999983" fill="#fff"/><path d="M336.79999999999995 786.8000000000001 h2 l-0.6 3.3599999999999794 z" fill="#fff"/><path d="M339.0 790.24 l1.1 5.03999999999997 h-2 z" fill="#fff"/><rect x="236.7" y="835.4" width="64.60000000000002" height="10.899999999999977" rx="5.449999999999989" fill="#fff" stroke="#111" stroke-width="1"/><line x1="241.605" y1="836.0" x2="296.39500000000004" y2="836.0" stroke="#111" stroke-width="1.6"/><line x1="241.605" y1="845.6999999999999" x2="296.39500000000004" y2="845.6999999999999" stroke="#111" stroke-width="1.6"/><circle cx="241.5" cy="840.8499999999999" r="0.9" fill="#111"/><circle cx="253.5" cy="840.8499999999999" r="0.9" fill="#111"/><circle cx="284" cy="840.8499999999999" r="0.9" fill="#111"/><circle cx="296" cy="840.8499999999999" r="0.9" fill="#111"/><circle cx="289" cy="840.8499999999999" r="1.5" fill="#111"/><rect x="307" y="835.4" width="64.60000000000002" height="10.899999999999977" rx="5.449999999999989" fill="#fff" stroke="#111" stroke-width="1"/><line x1="311.905" y1="836.0" x2="366.69500000000005" y2="836.0" stroke="#111" stroke-width="1.6"/><line x1="311.905" y1="845.6999999999999" x2="366.69500000000005" y2="845.6999999999999" stroke="#111" stroke-width="1.6"/><circle cx="312" cy="840.8499999999999" r="0.9" fill="#111"/><circle cx="324" cy="840.8499999999999" r="0.9" fill="#111"/><circle cx="354.5" cy="840.8499999999999" r="0.9" fill="#111"/><circle cx="366.5" cy="840.8499999999999" r="0.9" fill="#111"/><circle cx="318.5" cy="840.8499999999999" r="1.5" fill="#111"/><rect x="263.7" y="835.4" width="10" height="10.899999999999977" fill="#111"/><rect x="266.0" y="833.5" width="5.6" height="2" rx="0.6" fill="#111"/><rect x="264.8" y="841.395" width="1.1" height="3.269999999999993" fill="#fff"/><rect x="271.09999999999997" y="837.0" width="1" height="2.7249999999999943" fill="#fff"/><rect x="271.09999999999997" y="841.9399999999999" width="1" height="2.7249999999999943" fill="#fff"/><path d="M267.09999999999997 837.0 h2 l-0.6 3.269999999999993 z" fill="#fff"/><path d="M269.3 840.305 l1.1 4.90499999999999 h-2 z" fill="#fff"/><rect x="333.4" y="835.4" width="10" height="10.899999999999977" fill="#111"/><rect x="335.7" y="833.5" width="5.6" height="2" rx="0.6" fill="#111"/><rect x="334.5" y="841.395" width="1.1" height="3.269999999999993" fill="#fff"/><rect x="340.79999999999995" y="837.0" width="1" height="2.7249999999999943" fill="#fff"/><rect x="340.79999999999995" y="841.9399999999999" width="1" height="2.7249999999999943" fill="#fff"/><path d="M336.79999999999995 837.0 h2 l-0.6 3.269999999999993 z" fill="#fff"/><path d="M339.0 840.305 l1.1 4.90499999999999 h-2 z" fill="#fff"/><rect x="264.5" y="796" width="8" height="10" fill="#555" stroke="#111" stroke-width="1"/><circle cx="268.5" cy="801" r="1.4" fill="#fff"/><rect x="334.5" y="796" width="8" height="10" fill="#555" stroke="#111" stroke-width="1"/><circle cx="338.5" cy="801" r="1.4" fill="#fff"/><line x1="304.0" y1="702.5" x2="304.0" y2="712.2" stroke="#111" stroke-width="3"/><line x1="304.0" y1="712.2" x2="304.0" y2="725.2" stroke="#111" stroke-width="1.6"/><use href="#hook" x="304.0" y="745.2"/><use href="#hd" x="304.0" y="745.2"/><rect x="296.3" y="777.9000000000001" width="15.5" height="3.4" fill="#888" stroke="#111" stroke-width="1"/><path d="M297.9 781.3000000000001 V787 M310.5 781.3000000000001 V787" stroke="#111" stroke-width="1.2"/><path d="M302.5 781.3000000000001 V785.9000000000001 M305.8 781.3000000000001 V785.9000000000001" stroke="#111" stroke-width="0.7"/><rect x="292.5" y="784.3000000000001" width="5.4" height="3.4" rx="1.6" fill="#fff" stroke="#111" stroke-width="1.1"/><line x1="314.0" y1="782.9000000000001" x2="314.0" y2="788.9000000000001" stroke="#111" stroke-width="1.2"/><rect x="291.2" y="786.6" width="25.3" height="27.2" rx="7" fill="#fff" stroke="#111" stroke-width="1.1"/><path d="M296.84999999999997 778.6 L298.45 778.6 Q301.24999999999994 800.2 299.65 808.8000000000001 L298.04999999999995 808.8000000000001 Q295.45 798.84 296.84999999999997 778.6 Z" fill="#111"/><path d="M307.84999999999997 778.6 L309.84999999999997 778.6 Q312.24999999999994 800.2 309.24999999999994 811.3000000000001 L307.65 811.3000000000001 Q305.65 798.84 307.84999999999997 778.6 Z" fill="#111"/><path d="M297.84999999999997 789.6 L302.34999999999997 798.296" stroke="#111" stroke-width="1.4"/><circle cx="303.84999999999997" cy="798.296" r="2.2" fill="#fff" stroke="#111" stroke-width="1.5"/><circle cx="294.8" cy="810.0000000000001" r="1.1" fill="#111"/><line x1="217.5" y1="755.5" x2="217.5" y2="845.5" stroke="#218f8c" stroke-width="1"/><path d="M217.5 755.5 l-1.6 4 h3.2 z M217.5 845.5 l-1.6 -4 h3.2 z" fill="#218f8c"/><line x1="215.5" y1="755.5" x2="237" y2="755.5" stroke="#218f8c" stroke-width="1"/><line x1="215.5" y1="845.5" x2="237" y2="845.5" stroke="#218f8c" stroke-width="1"/><line x1="236.5" y1="887.5" x2="371.5" y2="887.5" stroke="#218f8c" stroke-width="1"/><path d="M236.5 887.5 l4 -1.6 v3.2 z M371.5 887.5 l-4 -1.6 v3.2 z" fill="#218f8c"/><line x1="236.5" y1="846.5" x2="236.5" y2="889.5" stroke="#218f8c" stroke-width="1"/><line x1="371.5" y1="846.5" x2="371.5" y2="889.5" stroke="#218f8c" stroke-width="1"/>
<rect x="517.9" y="812" width="9.3" height="29" fill="#fff" stroke="#111" stroke-width="1.1"/><circle cx="522.5" cy="817.5" r="0.9"/><rect x="476" y="764" width="92.5" height="3.3999999999999773" fill="#fff" stroke="none"/><line x1="476" y1="764" x2="568.5" y2="764" stroke="#111" stroke-width="1" shape-rendering="crispEdges"/><line x1="476" y1="767.4" x2="568.5" y2="767.4" stroke="#111" stroke-width="1" shape-rendering="crispEdges"/><rect x="473" y="834.3" width="98" height="3.400000000000091" fill="#fff" stroke="none"/><line x1="473" y1="834.3" x2="571" y2="834.3" stroke="#111" stroke-width="1" shape-rendering="crispEdges"/><line x1="473" y1="837.7" x2="571" y2="837.7" stroke="#111" stroke-width="1" shape-rendering="crispEdges"/><rect x="527.5" y="733.4" width="11.100000000000023" height="65.10000000000002" rx="5.550000000000011" fill="#fff" stroke="#111" stroke-width="1"/><line x1="528.1" y1="738.395" x2="528.1" y2="793.505" stroke="#111" stroke-width="1.4"/><line x1="538.0" y1="738.395" x2="538.0" y2="793.505" stroke="#111" stroke-width="1.4"/><circle cx="533.05" cy="739.3" r="0.9" fill="#111"/><circle cx="533.05" cy="751" r="0.9" fill="#111"/><rect x="476.4" y="733.4" width="11.300000000000011" height="65.60000000000002" rx="5.650000000000006" fill="#fff" stroke="#111" stroke-width="1"/><line x1="477.0" y1="738.485" x2="477.0" y2="793.915" stroke="#111" stroke-width="1.4"/><line x1="487.09999999999997" y1="738.485" x2="487.09999999999997" y2="793.915" stroke="#111" stroke-width="1.4"/><circle cx="482.04999999999995" cy="739.3" r="0.9" fill="#111"/><circle cx="482.04999999999995" cy="751" r="0.9" fill="#111"/><circle cx="482.04999999999995" cy="780.5" r="0.9" fill="#111"/><circle cx="482.04999999999995" cy="793.1" r="0.9" fill="#111"/><circle cx="482.04999999999995" cy="785.9" r="1.5" fill="#111"/><rect x="476.4" y="760.4000000000001" width="11.300000000000011" height="10.6" fill="#111"/><rect x="474.59999999999997" y="763.7" width="2" height="4" fill="#111"/><rect x="487.5" y="763.7" width="2" height="4" fill="#111"/><rect x="477.9" y="762.1" width="2.825000000000003" height="1" rx="0.5" fill="#fff"/><rect x="483.375" y="762.1" width="2.825000000000003" height="1" rx="0.5" fill="#fff"/><rect x="477.9" y="768.3000000000001" width="2.825000000000003" height="1" rx="0.5" fill="#fff"/><rect x="483.375" y="768.3000000000001" width="2.825000000000003" height="1" rx="0.5" fill="#fff"/><path d="M478.4 766.5 L480.2 764.1 L481.59999999999997 766.5 Z" fill="#fff"/><path d="M481.0 767.9000000000001 L483.4 764.9000000000001 L485.4 767.9000000000001 Z" fill="#fff"/><rect x="557.1" y="733.4" width="11.299999999999955" height="65.60000000000002" rx="5.649999999999977" fill="#fff" stroke="#111" stroke-width="1"/><line x1="557.7" y1="738.4849999999999" x2="557.7" y2="793.915" stroke="#111" stroke-width="1.4"/><line x1="567.8" y1="738.4849999999999" x2="567.8" y2="793.915" stroke="#111" stroke-width="1.4"/><circle cx="562.75" cy="739.3" r="0.9" fill="#111"/><circle cx="562.75" cy="751" r="0.9" fill="#111"/><circle cx="562.75" cy="780.5" r="0.9" fill="#111"/><circle cx="562.75" cy="793.1" r="0.9" fill="#111"/><circle cx="562.75" cy="785.9" r="1.5" fill="#111"/><rect x="557.1" y="760.4000000000001" width="11.299999999999955" height="10.6" fill="#111"/><rect x="555.3000000000001" y="763.7" width="2" height="4" fill="#111"/><rect x="568.1999999999999" y="763.7" width="2" height="4" fill="#111"/><rect x="558.6" y="762.1" width="2.8249999999999886" height="1" rx="0.5" fill="#fff"/><rect x="564.075" y="762.1" width="2.8249999999999886" height="1" rx="0.5" fill="#fff"/><rect x="558.6" y="768.3000000000001" width="2.8249999999999886" height="1" rx="0.5" fill="#fff"/><rect x="564.075" y="768.3000000000001" width="2.8249999999999886" height="1" rx="0.5" fill="#fff"/><path d="M559.1 766.5 L560.9 764.1 L562.3000000000001 766.5 Z" fill="#fff"/><path d="M561.7 767.9000000000001 L564.1 764.9000000000001 L566.1 767.9000000000001 Z" fill="#fff"/><rect x="476.4" y="804" width="11.300000000000011" height="65.60000000000002" rx="5.650000000000006" fill="#fff" stroke="#111" stroke-width="1"/><line x1="477.0" y1="809.085" x2="477.0" y2="864.515" stroke="#111" stroke-width="1.4"/><line x1="487.09999999999997" y1="809.085" x2="487.09999999999997" y2="864.515" stroke="#111" stroke-width="1.4"/><circle cx="482.04999999999995" cy="810" r="0.9" fill="#111"/><circle cx="482.04999999999995" cy="821.7" r="0.9" fill="#111"/><circle cx="482.04999999999995" cy="851.1" r="0.9" fill="#111"/><circle cx="482.04999999999995" cy="863.7" r="0.9" fill="#111"/><circle cx="482.04999999999995" cy="816.6" r="1.5" fill="#111"/><rect x="476.4" y="830.7" width="11.300000000000011" height="10.6" fill="#111"/><rect x="474.59999999999997" y="834" width="2" height="4" fill="#111"/><rect x="487.5" y="834" width="2" height="4" fill="#111"/><rect x="477.9" y="832.4" width="2.825000000000003" height="1" rx="0.5" fill="#fff"/><rect x="483.375" y="832.4" width="2.825000000000003" height="1" rx="0.5" fill="#fff"/><rect x="477.9" y="838.6" width="2.825000000000003" height="1" rx="0.5" fill="#fff"/><rect x="483.375" y="838.6" width="2.825000000000003" height="1" rx="0.5" fill="#fff"/><path d="M478.4 836.8 L480.2 834.4 L481.59999999999997 836.8 Z" fill="#fff"/><path d="M481.0 838.2 L483.4 835.2 L485.4 838.2 Z" fill="#fff"/><rect x="527.5" y="804" width="11.100000000000023" height="65.60000000000002" rx="5.550000000000011" fill="#fff" stroke="#111" stroke-width="1"/><line x1="528.1" y1="808.995" x2="528.1" y2="864.605" stroke="#111" stroke-width="1.4"/><line x1="538.0" y1="808.995" x2="538.0" y2="864.605" stroke="#111" stroke-width="1.4"/><circle cx="533.05" cy="810" r="0.9" fill="#111"/><circle cx="533.05" cy="821.7" r="0.9" fill="#111"/><circle cx="533.05" cy="851.1" r="0.9" fill="#111"/><circle cx="533.05" cy="863.7" r="0.9" fill="#111"/><circle cx="533.05" cy="816.6" r="1.5" fill="#111"/><rect x="527.5" y="830.7" width="11.100000000000023" height="10.6" fill="#111"/><rect x="525.7" y="834" width="2" height="4" fill="#111"/><rect x="538.4" y="834" width="2" height="4" fill="#111"/><rect x="529.0" y="832.4" width="2.7750000000000057" height="1" rx="0.5" fill="#fff"/><rect x="534.325" y="832.4" width="2.7750000000000057" height="1" rx="0.5" fill="#fff"/><rect x="529.0" y="838.6" width="2.7750000000000057" height="1" rx="0.5" fill="#fff"/><rect x="534.325" y="838.6" width="2.7750000000000057" height="1" rx="0.5" fill="#fff"/><path d="M529.5 836.8 L531.3 834.4 L532.7 836.8 Z" fill="#fff"/><path d="M532.1 838.2 L534.5 835.2 L536.5 838.2 Z" fill="#fff"/><rect x="557.1" y="804" width="11.299999999999955" height="65.60000000000002" rx="5.649999999999977" fill="#fff" stroke="#111" stroke-width="1"/><line x1="557.7" y1="809.085" x2="557.7" y2="864.5150000000001" stroke="#111" stroke-width="1.4"/><line x1="567.8" y1="809.085" x2="567.8" y2="864.5150000000001" stroke="#111" stroke-width="1.4"/><circle cx="562.75" cy="810" r="0.9" fill="#111"/><circle cx="562.75" cy="821.7" r="0.9" fill="#111"/><circle cx="562.75" cy="851.1" r="0.9" fill="#111"/><circle cx="562.75" cy="863.7" r="0.9" fill="#111"/><circle cx="562.75" cy="816.6" r="1.5" fill="#111"/><rect x="557.1" y="830.7" width="11.299999999999955" height="10.6" fill="#111"/><rect x="555.3000000000001" y="834" width="2" height="4" fill="#111"/><rect x="568.1999999999999" y="834" width="2" height="4" fill="#111"/><rect x="558.6" y="832.4" width="2.8249999999999886" height="1" rx="0.5" fill="#fff"/><rect x="564.075" y="832.4" width="2.8249999999999886" height="1" rx="0.5" fill="#fff"/><rect x="558.6" y="838.6" width="2.8249999999999886" height="1" rx="0.5" fill="#fff"/><rect x="564.075" y="838.6" width="2.8249999999999886" height="1" rx="0.5" fill="#fff"/><path d="M559.1 836.8 L560.9 834.4 L562.3000000000001 836.8 Z" fill="#fff"/><path d="M561.7 838.2 L564.1 835.2 L566.1 838.2 Z" fill="#fff"/><rect x="516.5" y="831.5" width="11" height="10" fill="#666" stroke="#111" stroke-width="1"/><circle cx="520" cy="835.5" r="1.3" fill="#fff"/><circle cx="524" cy="837.5" r="1.2" fill="#fff"/><line x1="522.4" y1="702.4" x2="522.4" y2="713.3" stroke="#111" stroke-width="3"/><line x1="522.4" y1="713.3" x2="522.4" y2="726.3" stroke="#111" stroke-width="1.6"/><use href="#hook" x="522.4" y="746.3"/><use href="#hd" x="522.4" y="746.3"/><rect x="514.6999999999999" y="779.0" width="15.5" height="3.4" fill="#888" stroke="#111" stroke-width="1"/><path d="M516.3 782.4 V791.5 M528.9 782.4 V791.5" stroke="#111" stroke-width="1.2"/><path d="M520.9 782.4 V787.0 M524.1999999999999 782.4 V787.0" stroke="#111" stroke-width="0.7"/><rect x="510.9" y="785.4" width="5.4" height="3.4" rx="1.6" fill="#fff" stroke="#111" stroke-width="1.1"/><line x1="532.4" y1="784.0" x2="532.4" y2="790.0" stroke="#111" stroke-width="1.2"/><rect x="509.9" y="790.9" width="25.3" height="23.2" rx="7" fill="#fff" stroke="#111" stroke-width="1.1"/><path d="M515.55 782.9 L517.15 782.9 Q519.9499999999999 802.5 518.3499999999999 809.1 L516.75 809.1 Q514.15 801.34 515.55 782.9 Z" fill="#111"/><path d="M526.55 782.9 L528.55 782.9 Q530.9499999999999 802.5 527.9499999999999 811.6 L526.3499999999999 811.6 Q524.3499999999999 801.34 526.55 782.9 Z" fill="#111"/><path d="M516.55 793.9 L521.05 800.876" stroke="#111" stroke-width="1.4"/><circle cx="522.55" cy="800.876" r="2.2" fill="#fff" stroke="#111" stroke-width="1.5"/><circle cx="513.5" cy="810.3000000000001" r="1.1" fill="#111"/><line x1="458.5" y1="733.5" x2="458.5" y2="868.5" stroke="#218f8c" stroke-width="1"/><path d="M458.5 733.5 l-1.6 4 h3.2 z M458.5 868.5 l-1.6 -4 h3.2 z" fill="#218f8c"/><line x1="456.5" y1="733.5" x2="477" y2="733.5" stroke="#218f8c" stroke-width="1"/><line x1="456.5" y1="868.5" x2="477" y2="868.5" stroke="#218f8c" stroke-width="1"/><line x1="477.5" y1="888.5" x2="567.5" y2="888.5" stroke="#218f8c" stroke-width="1"/><path d="M477.5 888.5 l4 -1.6 v3.2 z M567.5 888.5 l-4 -1.6 v3.2 z" fill="#218f8c"/><line x1="477.5" y1="869" x2="477.5" y2="890.5" stroke="#218f8c" stroke-width="1"/><line x1="567.5" y1="869" x2="567.5" y2="890.5" stroke="#218f8c" stroke-width="1"/>
</svg>
<div class="t" style="left:52.37px;top:2.68px;font-size:29.2px;font-weight:bold;color:#e23544;-webkit-text-stroke:3.2px #e23544;transform:scaleX(0.6713);">C</div>
<div class="t" style="left:71.83px;top:2.68px;font-size:29.2px;font-weight:bold;color:#e23544;-webkit-text-stroke:3.2px #e23544;transform:scaleX(0.7081);">L</div>
<div class="t" style="left:89.00px;top:2.68px;font-size:29.2px;font-weight:bold;color:#e23544;-webkit-text-stroke:3.2px #e23544;transform:scaleX(0.8747);">2</div>
<div style="position:absolute;left:106.3px;top:15.7px;width:11.100000000000009px;height:5.2px;background:#e23544"></div>
<div class="t" style="left:120.95px;top:2.68px;font-size:29.2px;font-weight:bold;color:#e23544;-webkit-text-stroke:3.2px #e23544;transform:scaleX(0.8438);">6</div>
<div class="t" style="left:655.83px;top:5.81px;font-size:18.3px;color:#e23544;-webkit-text-stroke:0.3px #e23544;transform:scaleX(0.8780);">up to 400 kg</div>
<div class="t" style="left:55.24px;top:51.39px;font-size:11px;font-weight:bold;color:#15161c;-webkit-text-stroke:0.35px #15161c;transform:scaleX(0.8212);">Suction pads</div>
<div class="t" style="left:149.64px;top:51.39px;font-size:11px;font-weight:bold;color:#15161c;-webkit-text-stroke:0.35px #15161c;transform:scaleX(0.8172);">Maximum extension</div>
<div class="t" style="left:504.04px;top:51.29px;font-size:11px;font-weight:bold;color:#15161c;-webkit-text-stroke:0.35px #15161c;transform:scaleX(0.8161);">Suction and release</div>
<div class="t" style="left:55.45px;top:73.29px;font-size:11px;font-weight:bold;color:#15161c;-webkit-text-stroke:0.35px #15161c;transform:scaleX(0.8370);">nr</div>
<div class="t" style="left:356.34px;top:73.39px;font-size:11px;font-weight:bold;color:#15161c;-webkit-text-stroke:0.35px #15161c;transform:scaleX(0.7844);">Manual</div>
<div class="t" style="left:546.64px;top:73.39px;font-size:11px;font-weight:bold;color:#15161c;-webkit-text-stroke:0.35px #15161c;transform:scaleX(0.8065);">Wireless</div>
<div class="t" style="left:56.20px;top:96.51px;font-size:14.4px;color:#1b2033;transform:scaleX(0.7244);">6</div>
<div class="t" style="left:149.90px;top:96.51px;font-size:14.4px;color:#1b2033;transform:scaleX(0.7853);">Up to 4000 mm</div>
<div class="t" style="left:356.40px;top:96.51px;font-size:14.4px;color:#1b2033;transform:scaleX(0.7597);">CL2-6</div>
<div class="t" style="left:546.50px;top:96.51px;font-size:14.4px;color:#1b2033;transform:scaleX(0.7467);">CL2-6-RC</div>
<div class="t" style="left:56.20px;top:120.11px;font-size:14.4px;color:#1b2033;transform:scaleX(0.7244);">6</div>
<div class="t" style="left:149.90px;top:120.11px;font-size:14.4px;color:#1b2033;transform:scaleX(0.7822);">Up to 6500 mm</div>
<div class="t" style="left:356.40px;top:120.11px;font-size:14.4px;color:#1b2033;transform:scaleX(0.7301);">CL2-6 EXT</div>
<div class="t" style="left:546.50px;top:120.11px;font-size:14.4px;color:#1b2033;transform:scaleX(0.7341);">CL2-6 EXT-RC</div>
<div class="t" style="left:47.88px;top:197.19px;font-size:18.2px;color:#141a30;-webkit-text-stroke:0.5px #141a30;transform:scaleX(0.9105);">Configurations</div>
<div class="t" style="left:47.88px;top:219.79px;font-size:18.2px;color:#141a30;-webkit-text-stroke:0.5px #141a30;transform:scaleX(0.9088);">for roof panels</div>
<div class="t" style="left:47.88px;top:242.39px;font-size:18.2px;color:#141a30;-webkit-text-stroke:0.5px #141a30;transform:scaleX(0.9307);">installation</div>
<div class="t" style="left:47.88px;top:541.09px;font-size:18.2px;color:#141a30;-webkit-text-stroke:0.5px #141a30;transform:scaleX(0.9105);">Configurations</div>
<div class="t" style="left:47.87px;top:563.69px;font-size:18.2px;color:#141a30;-webkit-text-stroke:0.5px #141a30;transform:scaleX(0.8910);">for wall panels</div>
<div class="t" style="left:47.88px;top:586.29px;font-size:18.2px;color:#141a30;-webkit-text-stroke:0.5px #141a30;transform:scaleX(0.9307);">installation</div>
<div class="t" style="left:259.80px;top:299.44px;font-size:10px;font-style:italic;color:#101020;-webkit-text-stroke:0.2px #101020;word-spacing:-2.78px;transform:scaleX(0.6157);">1680</div>
<div class="t" style="left:533.20px;top:298.44px;font-size:10px;font-style:italic;color:#101020;-webkit-text-stroke:0.2px #101020;word-spacing:2.52px;transform:scaleX(0.7164);">min 2568 - max 4128</div>
<div class="t" style="left:426.20px;top:472.97px;font-size:9.6px;font-style:italic;color:#101020;-webkit-text-stroke:0.2px #101020;word-spacing:2.40px;transform:scaleX(0.7493);">min 5016 - max 6576</div>
<div class="t" style="left:367.80px;top:650.83px;font-size:8px;font-style:italic;color:#101020;-webkit-text-stroke:0.2px #101020;word-spacing:2.23px;transform:scaleX(0.8535);">min 2568 - max 4128</div>
<div class="t" style="left:658.00px;top:773.00px;font-size:7.8px;font-style:italic;color:#101020;-webkit-text-stroke:0.2px #101020;word-spacing:2.27px;transform:scaleX(0.8563);">min 481 - max 1130</div>
<div class="t" style="left:296.50px;top:879.66px;font-size:8.2px;font-style:italic;color:#101020;-webkit-text-stroke:0.2px #101020;word-spacing:-2.28px;transform:scaleX(0.8331);">1680</div>
<div class="t" style="left:490.00px;top:880.00px;font-size:7.8px;font-style:italic;color:#101020;-webkit-text-stroke:0.2px #101020;word-spacing:2.33px;transform:scaleX(0.8446);">min 481 - max 1130</div>
<div class="t" style="left:0;top:0;font-size:7.8px;font-style:italic;color:#101020;-webkit-text-stroke:0.1px #101020;word-spacing:2.38px;transform:translate(210.50px,627.80px) rotate(-90deg) scaleX(0.8346);">min 481 - max 1130</div>
<div class="t" style="left:0;top:0;font-size:7.4px;font-style:italic;color:#101020;-webkit-text-stroke:0.1px #101020;word-spacing:2.12px;transform:translate(618.34px,676.60px) rotate(-90deg) scaleX(0.9097);">min 1990 - max 2904</div>
<div class="t" style="left:0;top:0;font-size:7.8px;font-style:italic;color:#101020;-webkit-text-stroke:0.1px #101020;word-spacing:2.30px;transform:translate(209.00px,833.30px) rotate(-90deg) scaleX(0.8496);">min 481 - max 1130</div>
<div class="t" style="left:0;top:0;font-size:8.6px;font-style:italic;color:#101020;-webkit-text-stroke:0.1px #101020;word-spacing:-2.39px;transform:translate(449.92px,806.70px) rotate(-90deg) scaleX(0.7107);">1680</div>
</body></html>
